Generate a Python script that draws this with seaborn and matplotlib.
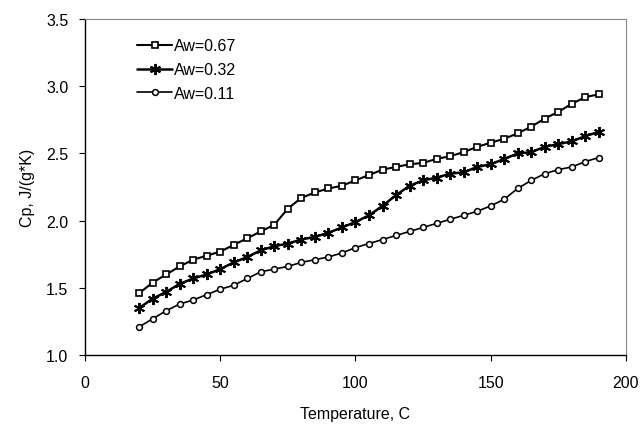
import numpy as np
import pandas as pd
import matplotlib
matplotlib.use('Agg')
import matplotlib.pyplot as plt
import seaborn as sns

temp = list(range(20, 195, 5))

aw_067 = [1.46, 1.54, 1.60, 1.66, 1.71, 1.74, 1.77, 1.82, 1.87, 1.92, 1.97, 2.09,
          2.17, 2.21, 2.24, 2.26, 2.30, 2.34, 2.38, 2.40, 2.42, 2.43, 2.46,
          2.48, 2.51, 2.55, 2.58, 2.61, 2.65, 2.70, 2.76, 2.81, 2.87, 2.92, 2.94]
aw_032 = [1.35, 1.42, 1.47, 1.53, 1.57, 1.60, 1.64, 1.69, 1.73, 1.78, 1.81, 1.83,
          1.86, 1.88, 1.91, 1.95, 1.99, 2.04, 2.11, 2.19, 2.26, 2.30, 2.32,
          2.35, 2.36, 2.40, 2.42, 2.46, 2.50, 2.51, 2.55, 2.57, 2.59, 2.63, 2.66]
aw_011 = [1.21, 1.27, 1.33, 1.38, 1.41, 1.45, 1.49, 1.52, 1.57, 1.62, 1.64, 1.66,
          1.69, 1.71, 1.73, 1.76, 1.80, 1.83, 1.86, 1.89, 1.92, 1.95, 1.98,
          2.01, 2.04, 2.07, 2.11, 2.16, 2.24, 2.30, 2.35, 2.38, 2.40, 2.44, 2.47]

labels = ['Aw=0.67', 'Aw=0.32', 'Aw=0.11']

df = pd.DataFrame({
    'Temperature': temp * 3,
    'Cp': aw_067 + aw_032 + aw_011,
    'series': [labels[0]] * len(temp) + [labels[1]] * len(temp) + [labels[2]] * len(temp),
})

sns.set_style('white')
plt.rcParams['font.family'] = ['Liberation Sans', 'DejaVu Sans']
plt.rcParams['text.color'] = 'black'
plt.rcParams['axes.labelcolor'] = 'black'
plt.rcParams['xtick.color'] = 'black'
plt.rcParams['ytick.color'] = 'black'

fig = plt.figure(figsize=(6.44, 4.27), dpi=100)
ax = fig.add_axes([0.132, 0.166, 0.840, 0.787])

styles = {
    'Aw=0.67': dict(marker='s', markersize=4.8, markerfacecolor='white', markeredgewidth=1.2, linewidth=1.5),
    'Aw=0.32': dict(marker=(6, 2, 0), markersize=8, markeredgewidth=1.4, linewidth=1.8),
    'Aw=0.11': dict(marker='o', markersize=4.2, markerfacecolor='white', markeredgewidth=1.1, linewidth=1.2),
}

for lab in labels:
    sub = df[df['series'] == lab]
    sns.lineplot(data=sub, x='Temperature', y='Cp', ax=ax, color='black',
                 markeredgecolor='black', label=lab, **styles[lab])

ax.set_xlim(0, 200)
ax.set_ylim(1.0, 3.5)
ax.set_xticks([0, 50, 100, 150, 200])
ax.set_yticks([1.0, 1.5, 2.0, 2.5, 3.0, 3.5])
ax.set_yticklabels(['1.0', '1.5', '2.0', '2.5', '3.0', '3.5'])
ax.tick_params(axis='both', labelsize=11.5, length=4, direction='out',
               color='black', width=0.8, pad=10)
ax.tick_params(axis='y', pad=8)
ax.xaxis.set_ticks_position('bottom')
ax.yaxis.set_ticks_position('left')

for side in ['left', 'bottom']:
    ax.spines[side].set_color('black')
    ax.spines[side].set_linewidth(1.0)
for side in ['top', 'right']:
    ax.spines[side].set_color('#888888')
    ax.spines[side].set_linestyle((0, (1, 1)))
    ax.spines[side].set_linewidth(0.8)

ax.set_xlabel('Temperature, C', fontsize=11.5, labelpad=12)
ax.set_ylabel('Cp, J/(g*K)', fontsize=11.5, labelpad=8)

ax.legend(loc='upper left', bbox_to_anchor=(0.07, 0.985), frameon=False,
          fontsize=11.5, handlelength=2.2, handletextpad=0.1, labelspacing=0.55)

fig.savefig('out.png', dpi=100)
